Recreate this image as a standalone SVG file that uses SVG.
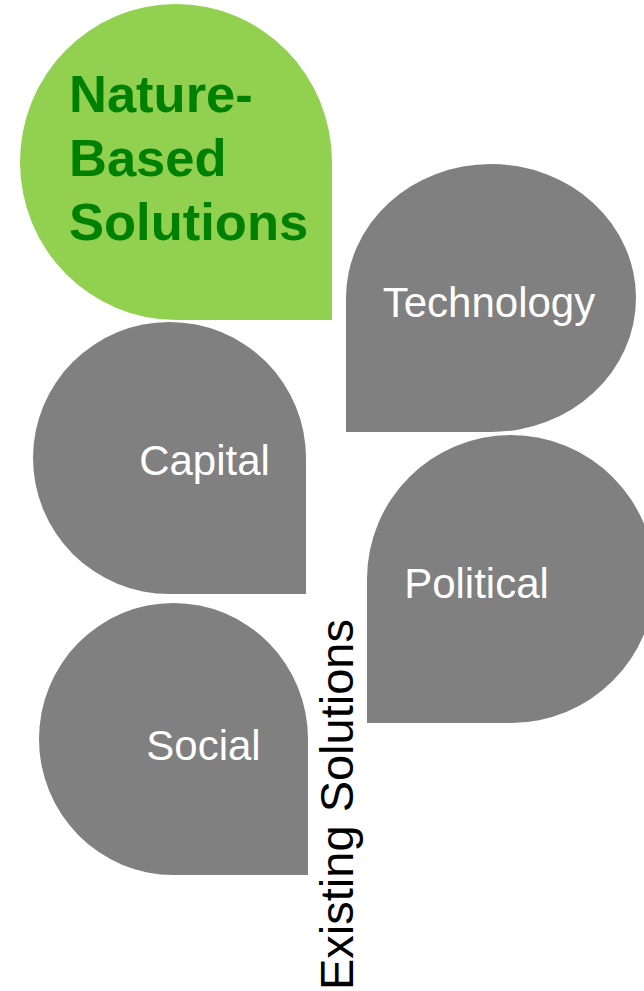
<svg xmlns="http://www.w3.org/2000/svg" width="644" height="991" viewBox="0 0 644 991">
  <style>
    .grey { fill: #808080; }
    .green { fill: #92D050; }
    .lbl { font-family: "Liberation Sans", Arial, sans-serif; font-size: 42px; fill: #FFFFFF; text-anchor: middle; }
    .nbs { font-family: "Liberation Sans", Arial, sans-serif; font-size: 52.5px; font-weight: bold; fill: #008000; }
    .side { font-family: "Liberation Sans", Arial, sans-serif; font-size: 47px; fill: #000000; }
  </style>
  <rect x="0" y="0" width="644" height="991" fill="#FFFFFF"/>
  <g id="nature-based-solutions">
    <path class="green" d="M332,320 L176,320 A156,158 0 0 1 20,162 A156,158 0 0 1 176,4 A156,158 0 0 1 332,162 Z"/>
    <text class="nbs" x="69" y="112">Nature-</text>
    <text class="nbs" x="69" y="176">Based</text>
    <text class="nbs" x="69" y="240">Solutions</text>
  </g>
  <g id="technology">
    <path class="grey" d="M346,432 L346,298 A145,134 0 0 1 491,164 A145,134 0 0 1 636,298 A145,134 0 0 1 491,432 Z"/>
    <text class="lbl" x="489" y="317">Technology</text>
  </g>
  <g id="capital">
    <path class="grey" d="M306,594 L169.5,594 A136.5,136 0 0 1 33,458 A136.5,136 0 0 1 169.5,322 A136.5,136 0 0 1 306,458 Z"/>
    <text class="lbl" x="204.5" y="475">Capital</text>
  </g>
  <g id="political">
    <path class="grey" d="M367,723 L367,579 A144,144 0 0 1 511,435 A144,144 0 0 1 655,579 A144,144 0 0 1 511,723 Z"/>
    <text class="lbl" x="476.5" y="598">Political</text>
  </g>
  <g id="social">
    <path class="grey" d="M308,875 L173.5,875 A134.5,136 0 0 1 39,739 A134.5,136 0 0 1 173.5,603 A134.5,136 0 0 1 308,739 Z"/>
    <text class="lbl" x="203.5" y="760">Social</text>
  </g>
  <g id="connectors"></g>
  <g id="existing-solutions">
    <text class="side" transform="translate(353,990) rotate(-90)">Existing Solutions</text>
  </g>
</svg>
